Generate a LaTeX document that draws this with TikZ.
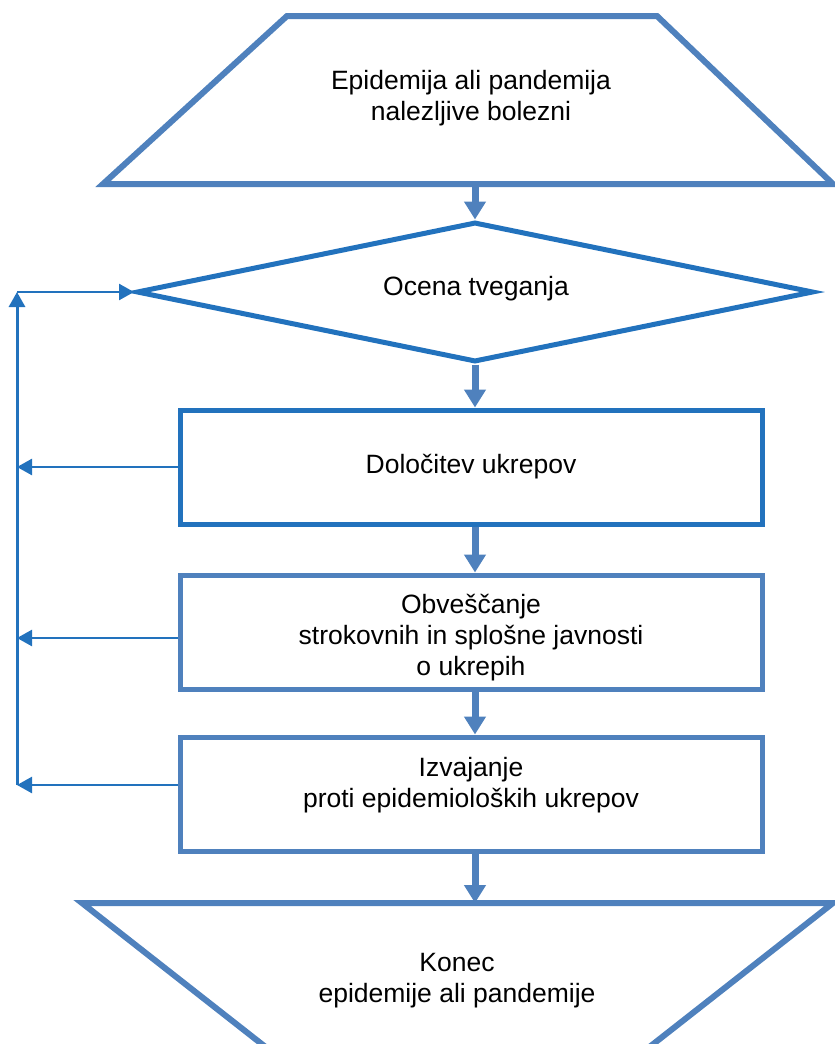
\documentclass[tikz,border=0pt]{standalone}
\usepackage{fontspec}
\setmainfont{Liberation Sans}
\usetikzlibrary{shapes.geometric,arrows.meta}
\definecolor{paleblue}{HTML}{4F81BD}
\definecolor{deepblue}{HTML}{2272BD}

\begin{document}
\begin{tikzpicture}[x=1pt,y=-1pt,
  txt/.style={align=center,font=\fontsize{26.5}{31}\selectfont},
  box/.style={draw,line width=5pt,minimum width=582pt,minimum height=114pt},
  flow/.style={paleblue,line width=7pt,-{Triangle[length=18pt,width=21pt]}},
  back/.style={deepblue,line width=2.5pt,-{Triangle[length=15pt,width=16pt]}}]
\useasboundingbox (0,0) rectangle (835,1044);
\clip (0,0) rectangle (835,1044);

% start and end
\draw[paleblue,line width=6pt] (287,16) -- (657,16) -- (833,184) -- (103,184) -- cycle;
\node[txt] (start) at (471,98) {Epidemija ali pandemija\\nalezljive bolezni};
\coordinate (startbase) at (475,184);
\draw[paleblue,line width=6pt] (82,903) -- (833,903) -- (601,1085) -- (314,1085) -- cycle;
\node[txt] (finish) at (457,981) {Konec\\epidemije ali pandemije};
\coordinate (finishtop) at (475,903);

% steps
\node[diamond,draw=deepblue,line width=5pt,minimum width=677pt,minimum height=140pt,inner sep=0pt] (risk) at (475,292) {};
\node[txt] (risktext) at (476,289) {Ocena tveganja};
\node[box,draw=deepblue] (measures) at (471,467) {};
\node[txt] (measurestext) at (471,467) {Določitev ukrepov};
\node[box,draw=paleblue] (inform) at (471,632) {};
\node[txt] (informtext) at (471,638) {Obveščanje\\strokovnih in splošne javnosti\\o ukrepih};
\node[box,draw=paleblue] (apply) at (471,794) {};
\node[txt] (applytext) at (471,785) {Izvajanje\\proti epidemioloških ukrepov};

% main flow
\draw[flow] (startbase) -- (risk.north);
\draw[flow] (risk.south) -- (measures.north -| risk.south);
\draw[flow] (measures.south -| risk.south) -- (inform.north -| risk.south);
\draw[flow] (inform.south -| risk.south) -- (apply.north -| risk.south);
\draw[flow] (apply.south -| risk.south) -- (finishtop);

% feedback
\coordinate (fbtop) at (17,292);
\coordinate (fbbot) at (17,785);
\draw[back] (measures.west) -- (measures.west -| fbbot);
\draw[back] (inform.west |- informtext) -- (informtext -| fbbot);
\draw[back] (apply.west |- fbbot) -- (fbbot);
\draw[back,line width=3pt] (fbbot) -- (fbtop);
\draw[back] (fbtop) -- (risk.west);
\end{tikzpicture}
\end{document}
